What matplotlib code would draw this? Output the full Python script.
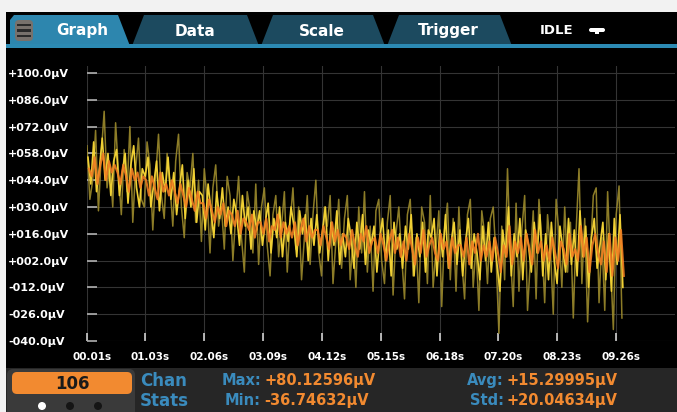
import numpy as np
import matplotlib
matplotlib.use('Agg')
import matplotlib.pyplot as plt
from matplotlib.patches import Rectangle, Polygon, FancyBboxPatch, Circle
from matplotlib.transforms import Affine2D, ScaledTranslation

W, H = 677, 412

# sample timing of the trace (s)
t_start = 0.01
t_step = 0.05

trace_dim = [
    62, 34, 44, 70, 28, 58, 80, 40, 52, 30,
    74, 48, 26, 60, 38, 72, 22, 50, 66, 34,
    30, 64, 52, 18, 46, 68, 36, 24, 58, 42,
    20, 54, 68, 30, 14, 48, 40, 58, 22, 44,
    12, 50, 34, 6, 40, 52, 20, 30, 8, 46,
    36, 2, 26, 46, 14, -4, 38, 28, 6, 42,
    0, 30, 40, 10, -6, 26, 36, 4, 20, 38,
    -4, 22, 40, 8, 30, -8, 14, 36, 0, 26,
    44, 6, -6, 30, 20, 36, -10, 12, 34, -2,
    24, 36, -8, 14, -12, 30, 6, 38, -4, 20,
    -14, 28, 34, 2, -10, 22, 36, -16, 16, 30,
    4, -18, 26, 34, -6, 14, -20, 30, 22, -10,
    36, -12, 8, 28, -22, 18, 32, -8, 24, -14,
    30, 2, -18, 26, 34, -12, 10, -24, 28, 16,
    -10, 24, 30, 4, -36, 20, -8, 50, 6, -22,
    32, -14, 18, 36, -24, 2, 28, -18, 34, 12,
    -20, 26, 8, -26, 34, 16, -12, 30, -4, 22,
    -28, 18, 50, -10, 24, -30, 6, 36, 40, -20,
    14, -24, 38, 2, -34, 26, 41, -28,
]
trace_yellow = [
    56, 42, 64, 38, 50, 66, 44, 58, 36, 54,
    60, 36, 48, 58, 32, 52, 62, 40, 30, 50,
    46, 56, 30, 42, 54, 28, 48, 38, 56, 34,
    48, 26, 40, 52, 24, 44, 30, 50, 22, 38,
    36, 18, 42, 28, 14, 38, 24, 40, 20, 30,
    16, 34, 26, 10, 36, 20, 30, 8, 28, 18,
    28, 10, 22, 32, 6, 24, 14, 30, 4, 22,
    12, 30, 20, 4, 28, 16, 26, 2, 24, 10,
    26, 6, 18, 30, 2, 22, 10, 28, 0, 16,
    4, 24, 14, -2, 22, 8, 26, 0, 18, 10,
    20, -4, 14, 24, 2, 18, -6, 22, 8, 16,
    -2, 20, 8, 26, -6, 16, 4, 22, -4, 18,
    14, 24, -6, 18, 4, 26, -2, 12, 22, 0,
    18, -6, 12, 24, -2, 16, 6, -8, 20, 2,
    22, -4, 14, 0, -14, 18, 4, 30, -6, 16,
    4, 24, -8, 18, 10, -4, 22, 6, 26, -6,
    16, -8, 22, 2, -10, 20, 8, -4, 24, 0,
    18, -6, 28, 4, 20, -12, 14, 24, -2, 10,
    22, -8, 16, -14, 24, 0, 26, -12,
]
trace_orange = [
    50, 46, 56, 42, 52, 58, 44, 54, 48, 52,
    48, 42, 52, 46, 38, 50, 44, 48, 40, 46,
    44, 36, 46, 40, 34, 48, 38, 42, 36, 44,
    38, 32, 42, 36, 30, 40, 34, 28, 38, 32,
    32, 24, 34, 28, 22, 30, 26, 32, 20, 28,
    26, 20, 28, 16, 24, 22, 18, 26, 14, 22,
    22, 16, 24, 12, 20, 18, 26, 14, 22, 16,
    20, 14, 22, 10, 18, 24, 12, 20, 14, 18,
    18, 10, 20, 14, 8, 22, 12, 18, 10, 16,
    14, 8, 18, 10, 4, 16, 12, 20, 6, 12,
    14, 6, 16, 10, 2, 12, 18, 6, 14, 4,
    12, 2, 16, 8, 0, 14, 6, 18, 4, 10,
    14, 6, 2, 16, 8, 12, -2, 14, 6, 10,
    10, 4, 14, 0, 12, 6, 16, 2, 10, 4,
    12, 2, 14, 6, -4, 10, 4, 20, 0, 12,
    6, 14, 2, 16, 8, 0, 18, 6, 12, 2,
    10, 2, 14, 6, -2, 12, 8, 0, 16, 4,
    8, 2, 20, 4, 14, -4, 10, 16, 6, 0,
    12, -4, 16, -6, 14, 2, 18, -6,
]

x_ticks = [0.01, 1.03, 2.06, 3.09, 4.12, 5.15, 6.18, 7.20, 8.23, 9.26]
y_ticks = [100, 86, 72, 58, 44, 30, 16, 2, -12, -26, -40]

tabs = ['Graph', 'Data', 'Scale', 'Trigger']
status = 'IDLE'
reading_count = '106'
stats = {'Max': '+80.12596µV', 'Min': '-36.74632µV',
         'Avg': '+15.29995µV', 'Std': '+20.04634µV'}

BLUE = '#3a8bbd'
ORANGE = '#f28a30'

plt.rcParams['font.family'] = ['DejaVu Sans']
plt.rcParams['font.weight'] = 'bold'

fig = plt.figure(figsize=(W / 100, H / 100), dpi=100, facecolor='black')
# pixel coordinates, origin top-left
pix = Affine2D().scale(1 / W, -1 / H).translate(0, 1) + fig.transFigure

def add(p):
    p.set_transform(pix)
    fig.add_artist(p)
    return p

# frame around the screen
add(Rectangle((0, 0), W, 12, color='#f2f2f2', lw=0))
add(Rectangle((0, 0), 6, H, color='#f2f2f2', lw=0))

# tab bar
tab_x = [(10, 130), (130, 259), (259, 385), (385, 512)]
for i, (name, (x0, x1)) in enumerate(zip(tabs, tab_x)):
    col = '#2d86ae' if i == 0 else '#1c4a5f'
    if i == 0:
        pts = [(x0, 46), (x0, 20), (x0 + 4, 15), (x1 - 12, 15), (x1, 46)]
    else:
        pts = [(x0 + 2, 46), (x0 + 14, 15), (x1 - 12, 15), (x1, 46)]
    add(Polygon(pts, closed=True, color=col, lw=0))
    cx = (x0 + x1) / 2 + (12 if i == 0 else 0)
    fig.text(cx, 31, name, transform=pix, color='white', fontsize=11,
             ha='center', va='center')
add(Rectangle((6, 44), W - 6, 4, color='#2c8ab3', lw=0))

# menu icon on the Graph tab
add(FancyBboxPatch((15, 20), 18, 21, boxstyle='round,pad=0,rounding_size=4',
                   color='#77716c', lw=0))
for yy in (25, 30.5, 36):
    add(Rectangle((17, yy - 1.2), 14, 2.4, color='#2a2a2a', lw=0))

fig.text(540, 30, status, transform=pix, color='white', fontsize=9.5,
         ha='left', va='center')
add(FancyBboxPatch((589, 28), 16, 4, boxstyle='round,pad=0,rounding_size=2',
                   color='white', lw=0))
add(Rectangle((595, 31), 4, 3, color='white', lw=0))

# status bar
add(Rectangle((6, 368), W - 6, H - 368, color='#262626', lw=0))
add(FancyBboxPatch((7, 369), 128, 50, boxstyle='round,pad=0,rounding_size=6',
                   color='#3a3a3a', lw=0))
add(FancyBboxPatch((12, 372), 120, 22, boxstyle='round,pad=0,rounding_size=5',
                   color=ORANGE, lw=0))
fig.text(72, 384, reading_count, transform=pix, color='#1a1a1a', fontsize=12,
         ha='center', va='center')
for k, xx in enumerate((42, 70, 98)):
    add(Circle((xx, 406), 4, color='white' if k == 0 else '#151515', lw=0))

fig.text(140, 381, 'Chan', transform=pix, color=BLUE, fontsize=12,
         ha='left', va='center')
fig.text(140, 401, 'Stats', transform=pix, color=BLUE, fontsize=12,
         ha='left', va='center')
for key, (kx, ky) in zip(['Max', 'Min', 'Avg', 'Std'],
                         [(261, 381), (261, 401), (504, 381), (504, 401)]):
    fig.text(kx, ky, key + ':', transform=pix, color=BLUE, fontsize=10.5,
             ha='right', va='center')
    fig.text(kx + 3, ky, stats[key], transform=pix, color=ORANGE,
             fontsize=10.5, ha='left', va='center')

# plot area
x_left, x_right = 87, 675
y_top, y_bot = 66, 341
t_per_px = (x_ticks[-1] - x_ticks[0]) / (9 * 58.8)
uv_per_px = 140 / (341 - 73)
ax = fig.add_axes([x_left / W, (H - y_bot) / H,
                   (x_right - x_left) / W, (y_bot - y_top) / H])
ax.set_facecolor('black')
ax.set_xlim(x_ticks[0], x_ticks[0] + (x_right - x_left) * t_per_px)
ax.set_ylim(-40, 100 + (73 - y_top) * uv_per_px)

n = len(trace_dim)
t = t_start + t_step * np.arange(n)
# the three traces are interleaved in time
ax.plot(t, trace_dim, color='#9c8a2c', lw=1.1, alpha=0.9, zorder=3)
ax.plot(t + t_step / 3, trace_yellow, color='#f0d034', lw=1.2, zorder=4)
ax.plot(t + 2 * t_step / 3, trace_orange, color='#f07e22', lw=1.5,
        alpha=0.9, zorder=5)

for s in ax.spines.values():
    s.set_visible(False)
ax.set_xticks(x_ticks)
ax.set_xticklabels(['%05.2fs' % v for v in x_ticks])
ax.set_yticks(y_ticks)
ax.set_yticklabels(['%+06.1fµV' % v for v in y_ticks])
ax.grid(True, color='#343434', lw=0.8, zorder=1)
ax.tick_params(axis='y', direction='in', length=7, width=1.2, color='#b0b0b0',
               labelcolor='white', labelsize=8, pad=(x_left - 8) * 0.72)
ax.tick_params(axis='x', direction='in', length=6, width=1.2, color='#d0d0d0',
               labelcolor='white', labelsize=7.5, pad=8)
for lab in ax.get_yticklabels():
    lab.set_ha('left')
for lab in ax.get_xticklabels():
    lab.set_transform(lab.get_transform() +
                      ScaledTranslation(5 / 100, 0, fig.dpi_scale_trans))

fig.savefig('out.png', dpi=100, facecolor='black')
